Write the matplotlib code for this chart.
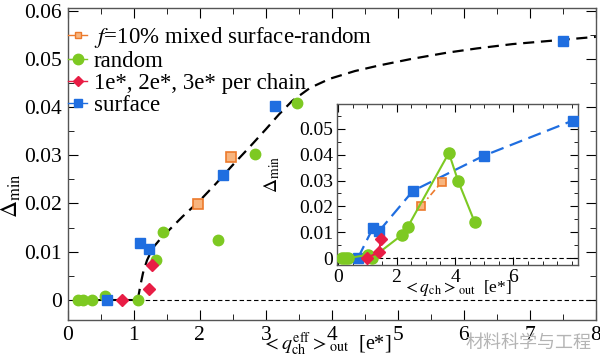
import matplotlib
matplotlib.use("Agg")
import matplotlib.pyplot as plt
from matplotlib.lines import Line2D
from matplotlib.ticker import MultipleLocator

plt.rcParams["font.family"] = ["Liberation Serif", "DejaVu Serif"]
plt.rcParams["mathtext.fontset"] = "stix"

# main panel data (effective charge)
rand_x = [0.15, 0.23, 0.36, 0.56, 1.07, 1.34, 1.44, 2.27, 2.83, 3.48]
rand_y = [0.0, 0.0, 0.0, 0.0008, 0.0, 0.0083, 0.0140, 0.0125, 0.0302, 0.0408]
surf_x = [0.59, 1.10, 1.23, 2.35, 3.14, 7.50]
surf_y = [0.0, 0.0118, 0.0105, 0.0260, 0.0402, 0.0537]
chain_x = [0.82, 1.23, 1.28]
chain_y = [0.0, 0.0023, 0.0073]
mix_x = [1.97, 2.48]
mix_y = [0.0199, 0.0297]

# fit curve
fit_x = [1.06, 1.10, 1.14, 1.20, 1.29, 1.40, 1.50, 1.74, 2.00, 2.25, 2.50, 2.76,
         3.00, 3.20, 3.40, 3.67, 3.97, 4.35, 4.73, 5.20, 5.74, 6.20, 6.74,
         7.50, 8.00]
fit_y = [0.0, 0.0030, 0.0056, 0.0082, 0.0108, 0.0126, 0.0140, 0.0173, 0.0206,
         0.0242, 0.0280, 0.0318, 0.0354, 0.0385, 0.0413, 0.0440, 0.0459,
         0.0475, 0.0487, 0.0500, 0.0513, 0.0522, 0.0531, 0.0540, 0.0546]

# inset data (<q_ch>_out)
in_rand_x = [0.14, 0.24, 0.34, 1.02, 1.16, 2.18, 2.39, 3.79, 4.10, 4.67]
in_rand_y = [0.0, 0.0, 0.0, 0.0012, 0.0, 0.0089, 0.0122, 0.0407, 0.0300, 0.0140]
in_surf_x = [0.68, 1.19, 1.40, 2.56, 4.98, 8.02]
in_surf_y = [0.0, 0.0116, 0.0104, 0.0260, 0.0396, 0.0532]
in_chain_x = [0.99, 1.40, 1.47]
in_chain_y = [0.0, 0.0023, 0.0075]
in_mix_x = [2.83, 3.55]
in_mix_y = [0.0200, 0.0295]

green = "#7dc922"
blue = "#1f6ee0"
red = "#e81d45"
orange = "#ec7a2c"
orange_fill = "#f8b57e"

fig = plt.figure(figsize=(6, 3.62), dpi=100)
ax = fig.add_axes([0.113, 0.116, 0.880, 0.862])

ax.plot([0.15, 1.07], [0, 0], color="black", lw=1.5)
ax.plot([1.07, 8], [0, 0], color="black", lw=0.8, ls=(0, (4, 2.5)))
ax.plot(fit_x, fit_y, color="black", lw=1.6, ls=(0, (5, 3)), zorder=3)

ax.plot(rand_x, rand_y, "o", color=green, ms=7.5, mec=green, zorder=4)
ax.plot(mix_x, mix_y, "s", color=orange_fill, mec=orange, mew=1.2, ms=6.5, zorder=5)
ax.plot(surf_x, surf_y, "s", color=blue, ms=7, zorder=5)
ax.plot(chain_x, chain_y, "D", color=red, ms=6, zorder=5)

ax.set_xlim(0, 8)
ax.set_ylim(-0.0042, 0.0606)
ax.xaxis.set_major_locator(MultipleLocator(1))
ax.xaxis.set_minor_locator(MultipleLocator(0.5))
ax.set_yticks([0, 0.01, 0.02, 0.03, 0.04, 0.05, 0.06])
ax.set_yticklabels(["0", "0.01", "0.02", "0.03", "0.04", "0.05", "0.06"])
ax.yaxis.set_minor_locator(MultipleLocator(0.005))
ax.tick_params(which="both", direction="in", top=True, right=True, labelsize=15.5, pad=4)
ax.tick_params(which="major", length=7)
ax.tick_params(which="minor", length=4)
for s in ax.spines.values():
    s.set_color("#555555")
    s.set_linewidth(1.0)

ax.set_xlabel(r"$<q_{\rm ch}^{\rm eff}>_{\rm out}$  [e*]", fontsize=14.5)
ax.xaxis.set_label_coords(0.49, -0.035)
ax.set_ylabel(r"$\Delta_{\rm min}$", fontsize=17)
ax.yaxis.set_label_coords(-0.085, 0.40)

handles = [
    Line2D([], [], color=orange, lw=1, marker="s", mfc=orange_fill, mec=orange, ms=5),
    Line2D([], [], color=green, lw=1, marker="o", ms=7.5),
    Line2D([], [], color=red, lw=1, marker="D", ms=5),
    Line2D([], [], color=blue, lw=1, marker="s", ms=6),
]
labels = [r"$f$=10% mixed surface-random", "random", "1e*, 2e*, 3e* per chain", "surface"]
ax.legend(handles, labels, loc="upper left", bbox_to_anchor=(-0.025, 0.99), frameon=False,
          fontsize=16.5, handlelength=0.8, handletextpad=0.3, labelspacing=0.05,
          borderaxespad=0.2)

# inset
ins = fig.add_axes([0.562, 0.268, 0.401, 0.445])
ins.plot([-0.1, 8.3], [0, 0], color="black", lw=0.8, ls=(0, (4, 2.5)))
ins.plot(in_surf_x, in_surf_y, "s", color=blue, ms=6.5, ls=(0, (6, 3)), lw=1.6, zorder=3)
ins.plot(in_mix_x, in_mix_y, "s", color=orange, mfc=orange_fill, mec=orange, mew=1.2, ms=6,
         ls=(0, (4, 2, 1, 2)), lw=1.2, zorder=3)
ins.plot(in_rand_x, in_rand_y, "o", color=green, ms=8, ls="-", lw=1.5, zorder=4)
ins.plot(in_chain_x, in_chain_y, "D", color=red, ms=6, ls="-", lw=1.5, zorder=5)

ins.set_xlim(-0.03, 8.2)
ins.set_ylim(-0.0027, 0.0597)
ins.set_xticks([0, 2, 4, 6])
ins.set_xticklabels(["0", "2", "4", "6"])
ins.xaxis.set_minor_locator(MultipleLocator(0.5))
ins.set_yticks([0, 0.01, 0.02, 0.03, 0.04, 0.05])
ins.set_yticklabels(["0", "0.01", "0.02", "0.03", "0.04", "0.05"])
ins.yaxis.set_minor_locator(MultipleLocator(0.005))
ins.tick_params(which="both", direction="in", top=True, right=True, labelsize=14, pad=3)
ins.tick_params(which="major", length=6)
ins.tick_params(which="minor", length=3)
for s in ins.spines.values():
    s.set_color("#555555")
    s.set_linewidth(1.0)
ins.set_xlabel(r"$<q_{\rm ch}>_{\rm out}$  [e*]", fontsize=12.5)
ins.xaxis.set_label_coords(0.50, -0.08)
ins.set_ylabel(r"$\Delta_{\rm min}$", fontsize=14)
ins.yaxis.set_label_coords(-0.23, 0.56)

fig.text(0.88, 0.052, "材料科学与工程", fontsize=13, color="#b4b4b4",
         family=["Noto Sans CJK SC", "DejaVu Sans"], ha="center", va="center")

fig.savefig("out.png", dpi=100)
